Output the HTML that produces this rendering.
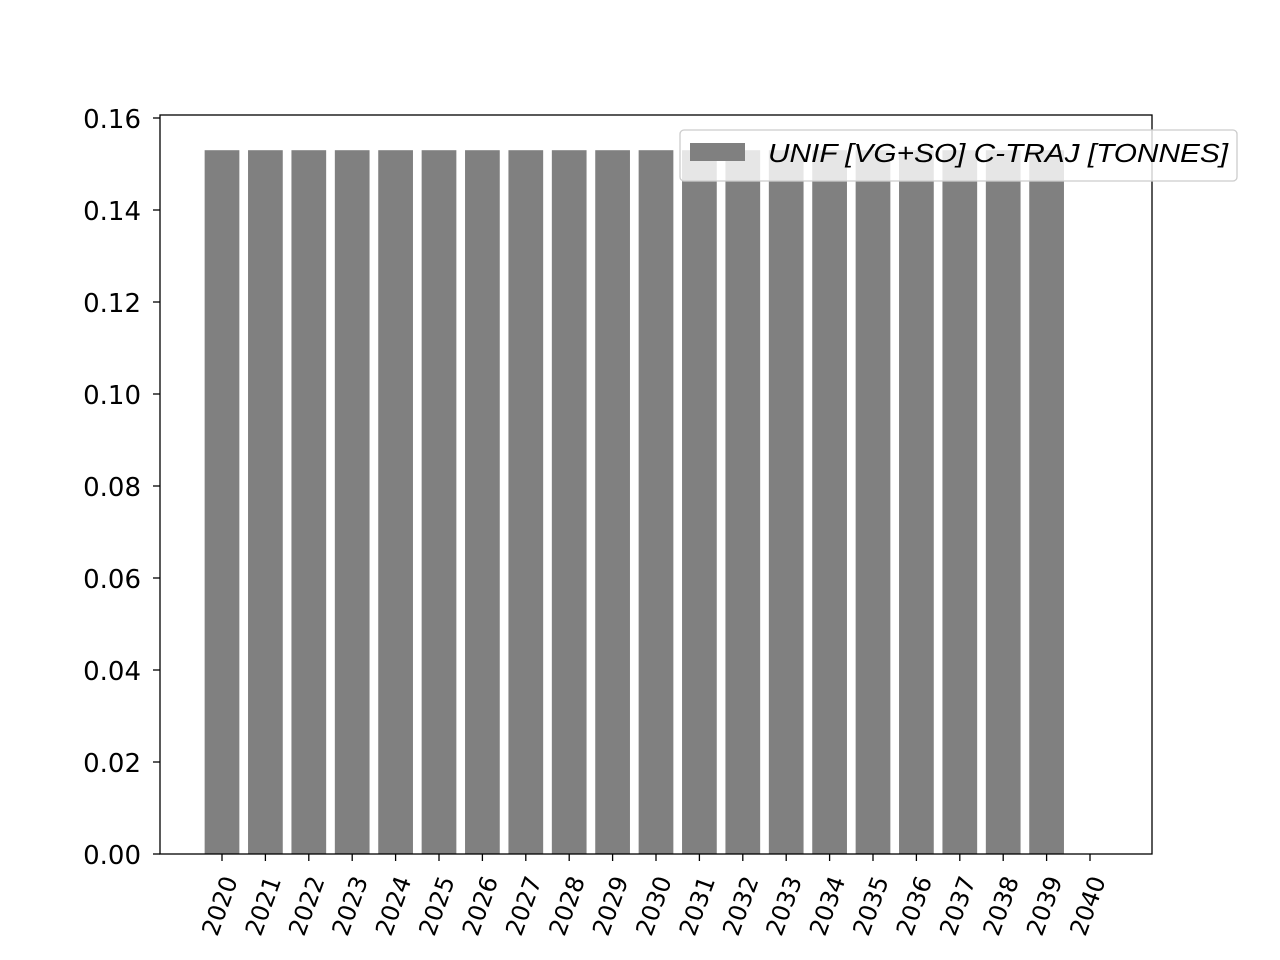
<!DOCTYPE html>
<html><head><meta charset="utf-8"><style>
html,body{margin:0;padding:0;background:#fff;}
svg{display:block;font-family:"DejaVu Sans","Liberation Sans",sans-serif;}
</style></head><body>
<svg id="chart" width="1280" height="960" viewBox="0 0 1280 960">
<rect x="0" y="0" width="1280" height="960" fill="#fff"/>
<g id="bars"></g>
<g id="yaxis"></g>
<g id="xaxis"></g>
<rect x="160" y="115" width="992" height="739" fill="none" stroke="#000" stroke-width="1.3"/>
<g>
<rect x="680" y="130" width="557" height="51" rx="4" fill="#fff" fill-opacity="0.8" stroke="#ccc" stroke-width="1.3"/>
<rect x="690" y="143" width="55" height="18" fill="#808080"/>
<text x="768" y="162" font-size="26" font-style="italic" textLength="460" lengthAdjust="spacingAndGlyphs" font-family="Liberation Sans, sans-serif">UNIF [VG+SO] C-TRAJ [TONNES]</text>
</g>
</svg>
<script>
const years = [2020,2021,2022,2023,2024,2025,2026,2027,2028,2029,2030,2031,2032,2033,2034,2035,2036,2037,2038,2039,2040];
const values = [0.153,0.153,0.153,0.153,0.153,0.153,0.153,0.153,0.153,0.153,0.153,0.153,0.153,0.153,0.153,0.153,0.153,0.153,0.153,0.153,0];
const yTicks = [0,0.02,0.04,0.06,0.08,0.10,0.12,0.14,0.16];
const NS='http://www.w3.org/2000/svg';
const y0=854, pxPerUnit=(854-118)/0.16;
function ys(v){return y0 - v*pxPerUnit;}
const x2020=222, step=(1090-222)/20;
function xs(i){return x2020 + i*step;}
const bw=step*0.8;
const gb=document.getElementById('bars'), gy=document.getElementById('yaxis'), gx=document.getElementById('xaxis');
years.forEach((yr,i)=>{
  if(values[i]>0){
    const r=document.createElementNS(NS,'rect');
    r.setAttribute('x',xs(i)-bw/2);r.setAttribute('y',ys(values[i]));
    r.setAttribute('width',bw);r.setAttribute('height',y0-ys(values[i]));
    r.setAttribute('fill','#808080');
    
    
    gb.appendChild(r);
  }
  const t=document.createElementNS(NS,'line');
  t.setAttribute('x1',xs(i));t.setAttribute('x2',xs(i));t.setAttribute('y1',854);t.setAttribute('y2',861);
  t.setAttribute('stroke','#000');t.setAttribute('stroke-width','1.3');
  
  
  gx.appendChild(t);
  const l=document.createElementNS(NS,'text');
  const lx=xs(i)+16, ly=880;
  l.setAttribute('x',lx);l.setAttribute('y',ly);l.setAttribute('font-size','24');
  l.setAttribute('text-anchor','end');
  l.setAttribute('transform','rotate(-70 '+lx+' '+ly+')');
  l.textContent=yr;
  
  
  gx.appendChild(l);
});
yTicks.forEach(v=>{
  const t=document.createElementNS(NS,'line');
  t.setAttribute('x1',153);t.setAttribute('x2',160);t.setAttribute('y1',ys(v));t.setAttribute('y2',ys(v));
  t.setAttribute('stroke','#000');t.setAttribute('stroke-width','1.3');
  
  
  gy.appendChild(t);
  const l=document.createElementNS(NS,'text');
  l.setAttribute('x',141);l.setAttribute('y',ys(v)+10);l.setAttribute('font-size','26');
  l.setAttribute('text-anchor','end');
  l.textContent=v.toFixed(2);
  
  
  gy.appendChild(l);
});
</script>
</body></html>
